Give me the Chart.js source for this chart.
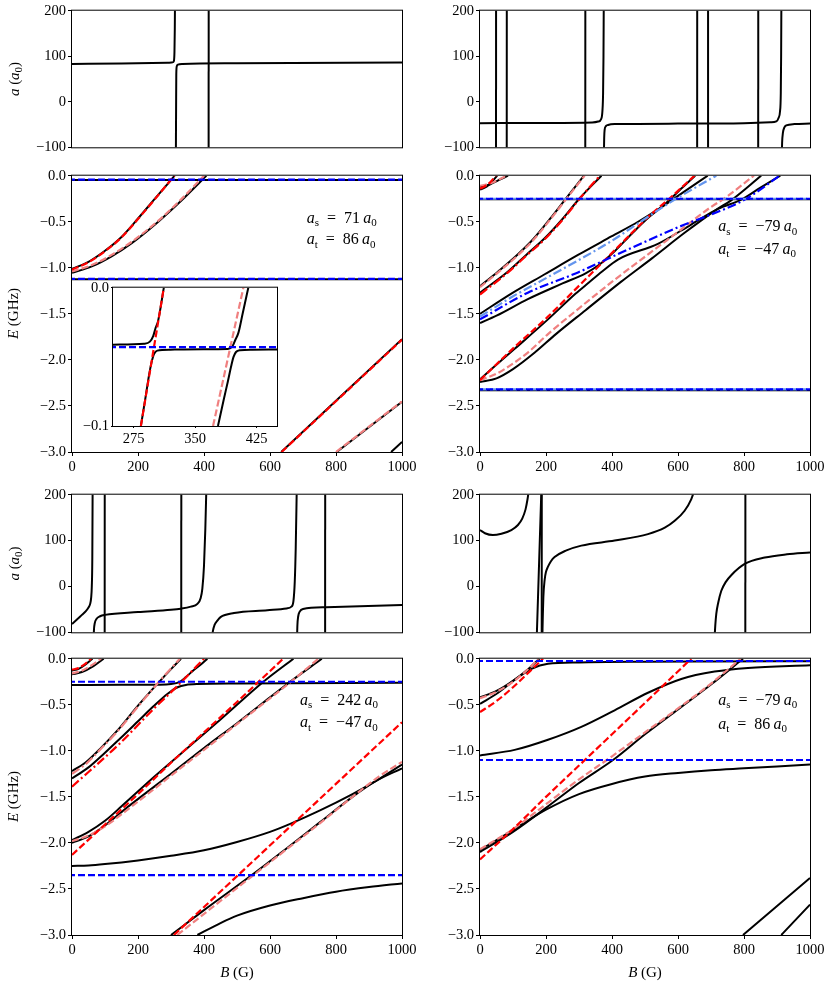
<!DOCTYPE html>
<html>
<head>
    <title>Feshbach spectra</title>
    <style>
        html, body { margin: 0; padding: 0; background: #fff; overflow: hidden; }
        #fig { position: relative; width: 830px; height: 986px; }
        canvas { position: absolute; }
    </style>
</head>
<body>
<div id="fig">
    <canvas id="aTL" width="420" height="158" style="left:0px;top:0px"></canvas>
    <canvas id="eTL" width="420" height="311" style="left:0px;top:165px"></canvas>
    <canvas id="aTR" width="415" height="158" style="left:415px;top:0px"></canvas>
    <canvas id="eTR" width="415" height="311" style="left:415px;top:165px"></canvas>
    <canvas id="aBL" width="420" height="159" style="left:0px;top:484px"></canvas>
    <canvas id="eBL" width="420" height="338" style="left:0px;top:648px"></canvas>
    <canvas id="aBR" width="415" height="159" style="left:415px;top:484px"></canvas>
    <canvas id="eBR" width="415" height="338" style="left:415px;top:648px"></canvas>
    <canvas id="inset" width="225" height="173" style="left:68px;top:277px"></canvas>
</div>

<script src="https://cdn.jsdelivr.net/npm/chart.js"></script>
<script>
    // ---------- data: [B (G), value] ----------
    // scattering lengths shown in each E panel [a_s, a_t]
    const lenTL = [71, 86];
    const lenTR = [-79, -47];
    const lenBL = [242, -47];
    const lenBR = [-79, 86];

    const xTicks = [0, 200, 400, 600, 800, 1000];
    const aTicks = [-100, 0, 100, 200];
    const eTicks = [-3, -2.5, -2, -1.5, -1, -0.5, 0];
    const inXTicks = [275, 350, 425];
    const inYTicks = [-0.1, 0];

    // top-left a(B)
    const aTL_bg1 = [[0,83],[150,84],[290,85.5],[305,86.5],[308.5,89],[310.5,110],[311.5,160],[312,210]];
    const aTL_bg2 = [[314.8,-110],[315.4,-20],[316,60],[317.5,78],[321,81.5],[335,83],[500,84.5],[1000,86.5]];
    const aTL_narrow = [414];

    // top-left E(B)
    const eTL_red = [[0,-1.02],[50,-0.94],[100,-0.82],[150,-0.67],[200,-0.47],[250,-0.26],[310,0]];
    const eTL_pink = [[0,-1.04],[60,-0.97],[120,-0.86],[180,-0.72],[258,-0.5],[330,-0.26],[400,0]];
    const eTL_red2 = [[635,-3.0],[1000,-1.78]];
    const eTL_pink2 = [[800,-3.0],[1000,-2.45]];
    const eTL_blue1 = [[0,-0.043],[1000,-0.043]];
    const eTL_blue2 = [[0,-1.12],[1000,-1.12]];
    const eTL_k1 = [[0,-1.01],[50,-0.935],[100,-0.815],[150,-0.665],[200,-0.465],[250,-0.255],[311,0]];
    const eTL_k2 = [[0,-1.055],[60,-0.985],[120,-0.875],[180,-0.735],[258,-0.51],[330,-0.275],[407,0]];
    const eTL_k3 = [[0,-0.046],[1000,-0.046]];
    const eTL_k4 = [[0,-1.124],[1000,-1.124]];
    const eTL_k5 = [[634,-3.0],[1000,-1.775]];
    const eTL_k6 = [[802,-3.0],[1000,-2.455]];
    const eTL_k7 = [[967,-3.0],[1000,-2.89]];

    // inset of top-left E(B)
    const in_red = [[284,-0.1],[312,0]];
    const in_pink = [[372,-0.1],[409,0]];
    const in_blue = [[250,-0.043],[450,-0.043]];
    const in_k1 = [[250,-0.0412],[288,-0.0405],[295,-0.039],[299,-0.035],[302,-0.029],[305,-0.024],[312,0]];
    const in_k2 = [[284,-0.1],[290,-0.078],[294,-0.063],[297,-0.054],[300,-0.048],[304,-0.0455],[320,-0.0448],[360,-0.0445],[390,-0.0443],[396,-0.042],[399,-0.038],[403,-0.0325],[408,-0.019],[415,0]];
    const in_k3 = [[378,-0.1],[385,-0.081],[390,-0.068],[394,-0.057],[397,-0.05],[400,-0.0465],[405,-0.0452],[420,-0.0448],[450,-0.0446]];

    // top-right a(B)
    const aTR_bg1 = [[0,-47],[200,-46.5],[340,-45.5],[358,-43.5],[367,-38],[371,-20],[373,20],[374.2,100],[375,210]];
    const aTR_bg2 = [[375.6,-110],[376.3,-80],[377.8,-61],[381,-54],[388,-51],[408,-49],[600,-48],[800,-47],[880,-45],[898,-43],[905,-35],[909,-22],[911.5,20],[912.5,100],[913.2,210]];
    const aTR_bg3 = [[914.8,-110],[915.5,-90],[918,-68],[922,-57],[928,-52],[953,-49],[1000,-48]];
    const aTR_narrow = [48.5, 81, 319, 658, 691, 843];

    // top-right E(B)
    const eTR_red1 = [[0,-0.14],[15,-0.115],[30,-0.075],[48,0]];
    const eTR_pink1 = [[0,-0.11],[25,-0.09],[50,-0.055],[80,0]];
    const eTR_pink2 = [[0,-1.21],[55,-1.05],[110,-0.88],[161,-0.7],[212,-0.48],[262,-0.25],[317,0]];
    const eTR_red2 = [[0,-1.29],[85,-1.05],[140,-0.87],[196,-0.69],[250,-0.48],[302,-0.25],[363,0]];
    const eTR_red3 = [[0,-2.22],[105,-1.86],[206,-1.53],[307,-1.17],[408,-0.81],[509,-0.45],[575,-0.245],[650,0]];
    const eTR_pink3 = [[0,-2.22],[50,-2.15],[100,-2.04],[145,-1.92],[206,-1.72],[300,-1.44],[408,-1.13],[500,-0.88],[600,-0.61],[700,-0.34],[741,-0.245],[830,0]];
    const eTR_lb = [[0,-1.53],[95,-1.32],[196,-1.12],[297,-0.92],[398,-0.71],[499,-0.47],[590,-0.26],[716,0]];
    const eTR_db = [[0,-1.56],[145,-1.27],[297,-1.05],[449,-0.8],[600,-0.56],[701,-0.42],[802,-0.26],[908,0]];
    const eTR_h1 = [[0,-0.25],[1000,-0.25]];
    const eTR_h2 = [[0,-2.32],[1000,-2.32]];
    const eTR_k1 = [[0,-0.15],[20,-0.12],[35,-0.07],[52,0]];
    const eTR_k2 = [[0,-0.12],[30,-0.095],[55,-0.05],[85,0]];
    const eTR_k3 = [[0,-1.2],[55,-1.04],[110,-0.87],[161,-0.69],[212,-0.47],[262,-0.24],[315,0]];
    const eTR_k4 = [[0,-1.27],[85,-1.04],[140,-0.86],[196,-0.68],[250,-0.47],[302,-0.245],[368,0]];
    const eTR_kA = [[0,-1.5],[95,-1.28],[196,-1.07],[297,-0.86],[398,-0.66],[479,-0.5],[555,-0.33],[620,-0.17],[690,0]];
    const eTR_kB = [[0,-1.6],[50,-1.52],[145,-1.34],[250,-1.17],[320,-1.06],[360,-0.97],[408,-0.82],[460,-0.63],[509,-0.46],[540,-0.37],[575,-0.26],[610,-0.14],[652,0]];
    const eTR_kC = [[0,-2.24],[50,-2.2],[100,-2.1],[166,-1.92],[230,-1.72],[320,-1.46],[428,-1.15],[520,-0.9],[620,-0.62],[720,-0.36],[760,-0.27],[852,0]];
    const eTR_kD = [[0,-2.21],[105,-1.88],[206,-1.56],[290,-1.28],[330,-1.16],[370,-1.04],[418,-0.91],[539,-0.74],[640,-0.53],[721,-0.36],[792,-0.26],[850,-0.13],[910,0]];
    const eTR_kh1 = [[0,-0.256],[1000,-0.256]];
    const eTR_kh2 = [[0,-2.33],[1000,-2.33]];

    // bottom-left a(B)
    const aBL_bg1 = [[0,-82],[15,-72],[30,-62],[42,-54],[50,-46],[55,-38],[58,-25],[60,0],[61.5,60],[62.5,210]];
    const aBL_bg2 = [[65.8,-110],[66.5,-95],[69,-80],[74,-71],[85,-65],[100,-62],[200,-56],[300,-51],[330,-48.5],[360,-44],[380,-38],[390,-25],[395,-5],[400,45],[404,125],[407,210]];
    const aBL_bg3 = [[425,-110],[427,-97],[432,-84],[440,-75],[450,-67],[491,-58],[592,-52],[650,-48],[665,-44],[671,-32],[675,10],[678,85],[681,210]];
    const aBL_bg4 = [[682,-110],[683,-85],[685.5,-65],[690,-55],[700,-49],[770,-45.5],[1000,-40.5]];
    const aBL_narrow = [99, 331, 767];

    // bottom-left E(B)
    const eBL_red1 = [[0,-0.12],[20,-0.1],[40,-0.055],[58,0]];
    const eBL_pink1 = [[0,-0.16],[30,-0.13],[60,-0.07],[88,0]];
    const eBL_pdd = [[0,-1.25],[40,-1.15],[90,-0.97],[135,-0.8],[200,-0.52],[259,-0.27],[327,0]];
    const eBL_rdd = [[0,-1.39],[145,-0.92],[246,-0.55],[327,-0.27],[378,-0.08],[400,0]];
    const eBL_red2 = [[0,-2.13],[100,-1.8],[200,-1.47],[300,-1.13],[400,-0.8],[500,-0.47],[640,0]];
    const eBL_pink2 = [[0,-1.98],[50,-1.92],[100,-1.82],[186,-1.59],[300,-1.27],[400,-0.99],[500,-0.71],[600,-0.43],[660,-0.26],[747,0]];
    const eBL_red3 = [[309,-3.0],[1000,-0.69]];
    const eBL_pink3 = [[319,-3],[450,-2.63],[550,-2.35],[650,-2.07],[750,-1.79],[850,-1.5],[930,-1.28],[1000,-1.12]];
    const eBL_h1 = [[0,-0.25],[1000,-0.25]];
    const eBL_h2 = [[0,-2.35],[1000,-2.35]];
    const eBL_k1 = [[0,-0.17],[30,-0.145],[65,-0.08],[96,0]];
    const eBL_k2 = [[0,-0.13],[20,-0.11],[40,-0.065],[62,0]];
    const eBL_k3 = [[0,-1.3],[50,-1.18],[100,-1.02],[145,-0.87],[200,-0.68],[246,-0.52],[290,-0.38],[320,-0.31],[345,-0.285],[380,-0.275],[500,-0.27],[1000,-0.262]];
    const eBL_k4 = [[0,-0.285],[150,-0.284],[260,-0.282],[300,-0.275],[325,-0.255],[345,-0.2],[370,-0.12],[395,-0.05],[410,0]];
    const eBL_k5 = [[0,-1.22],[40,-1.13],[90,-0.96],[135,-0.79],[200,-0.51],[262,-0.26],[330,0]];
    const eBL_k6 = [[0,-1.97],[50,-1.88],[100,-1.76],[151,-1.6],[250,-1.28],[350,-0.97],[450,-0.66],[580,-0.25],[671,0]];
    const eBL_k7 = [[0,-2.0],[50,-1.93],[100,-1.81],[176,-1.59],[300,-1.25],[400,-0.97],[500,-0.7],[600,-0.42],[661,-0.25],[757,0]];
    const eBL_k8 = [[300,-3.0],[400,-2.73],[552,-2.33],[650,-2.06],[750,-1.78],[850,-1.5],[920,-1.33],[1000,-1.19]];
    const eBL_k9 = [[0,-2.25],[50,-2.245],[100,-2.23],[200,-2.19],[300,-2.14],[400,-2.08],[500,-1.99],[600,-1.88],[663,-1.79],[750,-1.65],[850,-1.47],[920,-1.33],[1000,-1.15]];
    const eBL_k10 = [[380,-3],[450,-2.87],[500,-2.79],[600,-2.68],[700,-2.6],[800,-2.53],[900,-2.48],[1000,-2.44]];

    // bottom-right a(B)
    const aBR_bg1 = [[0,123],[15,116],[39,112],[65,115],[95,123],[115,134],[128,148],[138,168],[144,190],[148,210]];
    const aBR_bg2 = [[172,-110],[186,210]];
    const aBR_bg3 = [[189,-110],[190.5,-60],[192,-23],[196,15],[200,32],[206,43],[215,55],[226,64],[260,78],[307,89],[408,100],[509,114],[560,128],[590,143],[620,165],[640,190],[650,210]];
    const aBR_bg4 = [[711,-110],[713,-85],[716,-60],[722,-35],[731,-10],[745,10],[762,25],[802,49],[863,63],[930,70],[1000,74]];
    const aBR_narrow = [187, 804];

    // bottom-right E(B)
    const eBR_pink1 = [[0,-0.43],[50,-0.36],[100,-0.25],[150,-0.1],[176,0]];
    const eBR_red1 = [[0,-0.58],[50,-0.46],[100,-0.31],[150,-0.14],[191,0]];
    const eBR_red2 = [[0,-2.18],[100,-1.85],[200,-1.5],[300,-1.16],[400,-0.82],[500,-0.48],[640,0]];
    const eBR_pink2 = [[0,-2.07],[100,-1.85],[200,-1.58],[300,-1.31],[400,-1.06],[500,-0.8],[600,-0.54],[700,-0.27],[790,0]];
    const eBR_h1 = [[0,-0.025],[1000,-0.025]];
    const eBR_h2 = [[0,-1.1],[1000,-1.1]];
    const eBR_k1 = [[0,-0.49],[55,-0.37],[105,-0.23],[156,-0.11],[206,-0.055],[300,-0.04],[500,-0.033],[700,-0.03],[1000,-0.027]];
    const eBR_k2 = [[0,-0.42],[50,-0.35],[100,-0.24],[150,-0.1],[180,0]];
    const eBR_k3 = [[0,-1.05],[105,-0.99],[206,-0.88],[307,-0.74],[408,-0.56],[509,-0.37],[610,-0.22],[711,-0.14],[812,-0.1],[1000,-0.07]];
    const eBR_k4 = [[0,-2.1],[100,-1.88],[200,-1.62],[300,-1.35],[403,-1.1],[500,-0.82],[600,-0.55],[700,-0.28],[797,0]];
    const eBR_k5 = [[0,-2.08],[100,-1.86],[200,-1.64],[300,-1.47],[400,-1.36],[500,-1.28],[600,-1.24],[700,-1.21],[800,-1.19],[1000,-1.15]];
    const eBR_k6 = [[797,-3.0],[1000,-2.38]];
    const eBR_k7 = [[913,-3.0],[1000,-2.67]];

    // ---------- styling ----------
    const FONT = 'Liberation Serif';
    const DASH = [7, 3];
    const DASHDOT = [9, 3, 2, 3];
    const STY = {
        k:   { c: '#000000', d: [], w: 2 },
        r:   { c: '#ff0000', d: DASH },
        p:   { c: '#f08080', d: DASH },
        b:   { c: '#0000ff', d: DASH, o: 4 },
        lb:  { c: '#6495ed', d: DASH },
        rdd: { c: '#ff0000', d: DASHDOT },
        pdd: { c: '#f08080', d: DASHDOT },
        bdd: { c: '#0000ff', d: DASHDOT },
        lbdd:{ c: '#6495ed', d: DASHDOT }
    };

    function ds(pts, key) {
        const s = STY[key];
        return {
            data: pts.map(p => ({ x: p[0], y: p[1] })),
            showLine: true,
            borderColor: s.c,
            borderWidth: s.w || 2.2,
            borderDash: s.d,
            borderDashOffset: s.o || 0,
            pointRadius: 0,
            cubicInterpolationMode: 'monotone',
            clip: 0,
            order: key === 'k' ? 2 : 1
        };
    }

    function narrow(list) {
        return list.map(b => ds([[b, -110], [b + 0.2, 210]], 'k'));
    }

    function fmt(v, d) {
        return (v < 0 ? '\u2212' : '') + Math.abs(v).toFixed(d);
    }

    // text with italic variables and subscripts
    const it = t => ({ t, it: true });
    const rm = t => ({ t });
    const sb = t => ({ t, sub: true });

    function drawParts(ctx, parts, x, y, align, size) {
        const small = Math.round(size * 0.7);
        const fonts = parts.map(p => p.sub ? small + 'px "' + FONT + '"' :
            (p.it ? 'italic ' + size + 'px "' + FONT + '"' : size + 'px "' + FONT + '"'));
        const widths = parts.map((p, i) => { ctx.font = fonts[i]; return ctx.measureText(p.t).width; });
        const total = widths.reduce((a, b) => a + b, 0);
        let cx = align === 'center' ? x - total / 2 : x;
        parts.forEach((p, i) => {
            ctx.font = fonts[i];
            ctx.fillText(p.t, cx, y + (p.sub ? size * 0.28 : 0));
            cx += widths[i];
        });
    }

    function notes(items) {
        return {
            id: 'notes',
            afterDraw(chart) {
                const ctx = chart.ctx;
                ctx.save();
                ctx.fillStyle = '#000';
                ctx.textBaseline = 'middle';
                items.forEach(item => {
                    let px = item.px, py = item.py;
                    if (item.data) {
                        px = chart.scales.x.getPixelForValue(item.data[0]);
                        py = chart.scales.y.getPixelForValue(item.data[1]);
                    }
                    ctx.save();
                    ctx.translate(px, py);
                    if (item.rot) ctx.rotate(-Math.PI / 2);
                    drawParts(ctx, item.parts, 0, 0, item.align || 'left', item.size || 15);
                    ctx.restore();
                });
                ctx.restore();
            }
        };
    }

    function lenLines(len, x, y1, y2) {
        const n = v => (v < 0 ? '\u2212' + Math.abs(v) : String(v));
        const eq = '\u2002=\u2002';
        return [
            { data: [x, y1], size: 16, parts: [it('a'), sb('s'), rm(eq + n(len[0]) + '\u2009'), it('a'), sb('0')] },
            { data: [x, y2], size: 16, parts: [it('a'), sb('t'), rm(eq + n(len[1]) + '\u2009'), it('a'), sb('0')] }
        ];
    }

    const frame = {
        id: 'frame',
        beforeDatasetsDraw(chart, args, opts) {
            if (!opts.fill) return;
            const a = chart.chartArea;
            chart.ctx.save();
            chart.ctx.fillStyle = '#fff';
            chart.ctx.fillRect(a.left, a.top, a.right - a.left, a.bottom - a.top);
            chart.ctx.restore();
        },
        afterDraw(chart) {
            const a = chart.chartArea, ctx = chart.ctx;
            ctx.save();
            ctx.strokeStyle = '#000';
            ctx.lineWidth = 1;
            ctx.strokeRect(a.left - 0.5, a.top - 0.5, a.right - a.left + 1, a.bottom - a.top + 1);
            ctx.restore();
        }
    };
    Chart.register(frame);

    function makeChart(id, opt) {
        const tick = { color: '#000', font: { family: FONT, size: 14.5 }, padding: opt.tickPad || 2,
                       autoSkip: false, maxRotation: 0 };
        const grid = { drawOnChartArea: false, drawTicks: true, tickLength: opt.tickLen || 4,
                       color: '#000', lineWidth: 1 };
        const xT = opt.xTicks, yT = opt.yTicks;
        return new Chart(document.getElementById(id), {
            type: 'scatter',
            data: { datasets: opt.sets },
            options: {
                responsive: false,
                animation: false,
                events: [],
                layout: { padding: opt.pad },
                plugins: { legend: { display: false }, tooltip: { enabled: false }, frame: { fill: !!opt.fill } },
                scales: {
                    x: {
                        type: 'linear', min: opt.xr[0], max: opt.xr[1], display: opt.showX,
                        grid, border: { display: false },
                        ticks: { ...tick, callback: v => fmt(v, 0) },
                        afterBuildTicks: s => { s.ticks = xT.map(v => ({ value: v })); },
                        afterFit: s => { s.height = opt.showX ? 24 : 0; }
                    },
                    y: {
                        type: 'linear', min: opt.yr[0], max: opt.yr[1],
                        grid, border: { display: false },
                        ticks: { ...tick, callback: v => fmt(v, opt.yDec) },
                        afterBuildTicks: s => { s.ticks = yT.map(v => ({ value: v })); },
                        afterFit: s => { s.width = opt.yW; }
                    }
                }
            },
            plugins: [notes(opt.notes || [])]
        });
    }

    const aTitle = [it('a'), rm(' ('), it('a'), sb('0'), rm(')')];
    const eTitle = [it('E'), rm(' (GHz)')];
    const bTitle = [it('B'), rm(' (G)')];

    const padL = { top: 10, right: 18, bottom: 10, left: 0 };
    const padR = { top: 10, right: 20, bottom: 10, left: 0 };
    const padLE = { top: 10, right: 18, bottom: 0, left: 0 };
    const padRE = { top: 10, right: 20, bottom: 0, left: 0 };
    const padLB = { top: 10, right: 18, bottom: 27, left: 0 };
    const padRB = { top: 10, right: 20, bottom: 27, left: 0 };

    const aBase = { xr: [0, 1000], yr: [-100, 200], xTicks, yTicks: aTicks, yDec: 0, showX: false };
    const eBase = { xr: [0, 1000], yr: [-3, 0], xTicks, yTicks: eTicks, yDec: 1, showX: true };

    // ---------- top row ----------
    makeChart('aTL', { ...aBase, yW: 72, pad: padL,
        sets: [ds(aTL_bg1, 'k'), ds(aTL_bg2, 'k'), ...narrow(aTL_narrow)],
        notes: [{ px: 15, py: 79, rot: true, align: 'center', parts: aTitle }] });

    makeChart('eTL', { ...eBase, yW: 72, pad: padLE,
        sets: [ds(eTL_blue1, 'b'), ds(eTL_blue2, 'b'), ds(eTL_red, 'r'), ds(eTL_pink, 'p'),
               ds(eTL_red2, 'r'), ds(eTL_pink2, 'p'),
               ds(eTL_k1, 'k'), ds(eTL_k2, 'k'), ds(eTL_k3, 'k'), ds(eTL_k4, 'k'),
               ds(eTL_k5, 'k'), ds(eTL_k6, 'k'), ds(eTL_k7, 'k')],
        notes: [{ px: 14, py: 148.5, rot: true, align: 'center', parts: eTitle },
                ...lenLines(lenTL, 711, -0.47, -0.70)] });

    makeChart('aTR', { ...aBase, yW: 65, pad: padR,
        sets: [ds(aTR_bg1, 'k'), ds(aTR_bg2, 'k'), ds(aTR_bg3, 'k'), ...narrow(aTR_narrow)] });

    makeChart('eTR', { ...eBase, yW: 65, pad: padRE,
        sets: [ds(eTR_h1, 'b'), ds(eTR_h2, 'b'), ds(eTR_h1, 'lb'), ds(eTR_h2, 'lb'),
               ds(eTR_db, 'bdd'), ds(eTR_lb, 'lbdd'),
               ds(eTR_red1, 'r'), ds(eTR_pink1, 'p'), ds(eTR_red2, 'rdd'), ds(eTR_pink2, 'p'),
               ds(eTR_red3, 'r'), ds(eTR_pink3, 'p'),
               ds(eTR_k1, 'k'), ds(eTR_k2, 'k'), ds(eTR_k3, 'k'), ds(eTR_k4, 'k'),
               ds(eTR_kA, 'k'), ds(eTR_kB, 'k'), ds(eTR_kC, 'k'), ds(eTR_kD, 'k'),
               ds(eTR_kh1, 'k'), ds(eTR_kh2, 'k')],
        notes: lenLines(lenTR, 722, -0.56, -0.805) });

    // ---------- bottom row ----------
    makeChart('aBL', { ...aBase, yW: 72, pad: padL,
        sets: [ds(aBL_bg1, 'k'), ds(aBL_bg2, 'k'), ds(aBL_bg3, 'k'), ds(aBL_bg4, 'k'), ...narrow(aBL_narrow)],
        notes: [{ px: 15, py: 79.5, rot: true, align: 'center', parts: aTitle }] });

    makeChart('eBL', { ...eBase, yW: 72, pad: padLB,
        sets: [ds(eBL_h1, 'b'), ds(eBL_h2, 'b'),
               ds(eBL_red1, 'r'), ds(eBL_pink1, 'p'), ds(eBL_pdd, 'pdd'), ds(eBL_rdd, 'rdd'),
               ds(eBL_red2, 'r'), ds(eBL_pink2, 'p'), ds(eBL_red3, 'r'), ds(eBL_pink3, 'p'),
               ds(eBL_k1, 'k'), ds(eBL_k2, 'k'), ds(eBL_k3, 'k'), ds(eBL_k4, 'k'), ds(eBL_k5, 'k'),
               ds(eBL_k6, 'k'), ds(eBL_k7, 'k'), ds(eBL_k8, 'k'), ds(eBL_k9, 'k'), ds(eBL_k10, 'k')],
        notes: [{ px: 14, py: 148.5, rot: true, align: 'center', parts: eTitle },
                { px: 237, py: 325, align: 'center', parts: bTitle },
                ...lenLines(lenBL, 691, -0.455, -0.70)] });

    makeChart('aBR', { ...aBase, yW: 65, pad: padR,
        sets: [ds(aBR_bg1, 'k'), ds(aBR_bg2, 'k'), ds(aBR_bg3, 'k'), ds(aBR_bg4, 'k'), ...narrow(aBR_narrow)] });

    makeChart('eBR', { ...eBase, yW: 65, pad: padRB,
        sets: [ds(eBR_h1, 'b'), ds(eBR_h2, 'b'),
               ds(eBR_pink1, 'p'), ds(eBR_red1, 'r'), ds(eBR_red2, 'r'), ds(eBR_pink2, 'p'),
               ds(eBR_k1, 'k'), ds(eBR_k2, 'k'), ds(eBR_k3, 'k'), ds(eBR_k4, 'k'),
               ds(eBR_k5, 'k'), ds(eBR_k6, 'k'), ds(eBR_k7, 'k')],
        notes: [{ px: 230, py: 325, align: 'center', parts: bTitle },
                ...lenLines(lenBR, 722, -0.455, -0.715)] });

    // ---------- inset ----------
    makeChart('inset', { xr: [250, 450], yr: [-0.1, 0], xTicks: inXTicks, yTicks: inYTicks, yDec: 1,
        showX: true, yW: 45, fill: true, tickLen: 2, tickPad: 2,
        pad: { top: 10, right: 16, bottom: 0, left: 0 },
        sets: [ds(in_blue, 'b'), ds(in_red, 'r'), ds(in_pink, 'p'),
               ds(in_k1, 'k'), ds(in_k2, 'k'), ds(in_k3, 'k')] });
</script>
</body>
</html>
